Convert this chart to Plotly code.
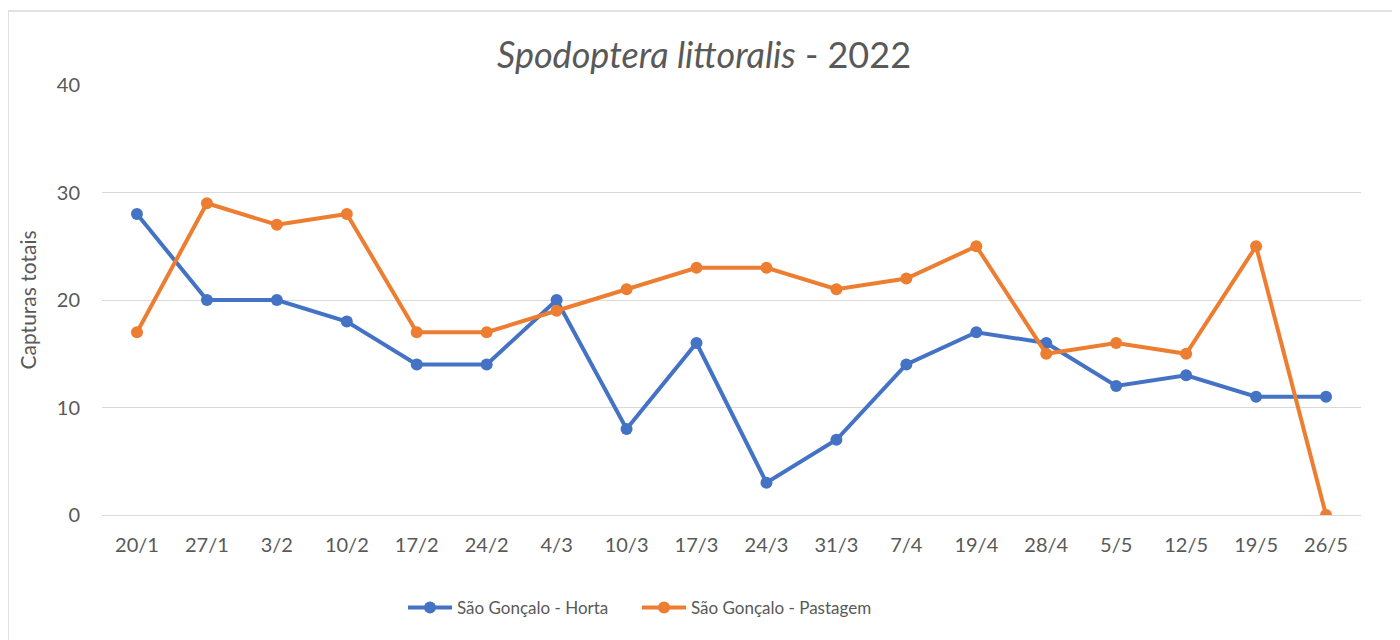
import plotly.graph_objects as go

dates = ["20/1", "27/1", "3/2", "10/2", "17/2", "24/2", "4/3", "10/3", "17/3",
         "24/3", "31/3", "7/4", "19/4", "28/4", "5/5", "12/5", "19/5", "26/5"]
horta = [28, 20, 20, 18, 14, 14, 20, 8, 16, 3, 7, 14, 17, 16, 12, 13, 11, 11]
pastagem = [17, 29, 27, 28, 17, 17, 19, 21, 23, 23, 21, 22, 25, 15, 16, 15, 25, 0]

FONT = "Lato"
GREY = "#595959"

W, H = 1392, 632   # page has 8px body margin
L, T = 94, 77
PW, PH = 1259, 430

fig = go.Figure()
fig.add_trace(go.Scatter(
    x=dates, y=horta, mode="lines+markers", name="São Gonçalo - Horta",
    line=dict(color="#4472C4", width=4), marker=dict(color="#4472C4", size=12),
))
fig.add_trace(go.Scatter(
    x=dates, y=pastagem, mode="lines+markers", name="São Gonçalo - Pastagem",
    line=dict(color="#ED7D31", width=4), marker=dict(color="#ED7D31", size=12),
))

fig.update_layout(
    width=W, height=H,
    margin=dict(l=L, r=W - L - PW, t=T, b=H - T - PH),
    paper_bgcolor="white", plot_bgcolor="white",
    font=dict(family=FONT, color=GREY, size=17),
    title=dict(
        text="<i>Spodoptera littoralis</i> - 2022",
        x=0.5, xanchor="center", xref="container",
        y=1 - 47 / H, yanchor="middle",
        font=dict(family=FONT, size=36, color=GREY),
    ),
    xaxis=dict(
        type="category", showgrid=False, showline=False, ticks="",
        tickfont=dict(size=20, color=GREY), range=[-0.5, len(dates) - 0.5],
        ticklabelstandoff=16,
    ),
    yaxis=dict(
        range=[0, 40], dtick=10, showgrid=True, gridcolor="#D9D9D9", gridwidth=1,
        zeroline=True, zerolinecolor="#D9D9D9", zerolinewidth=1,
        ticks="", ticklabelstandoff=21, tickfont=dict(size=20, color=GREY),
        title=dict(text="Capturas totais", font=dict(size=21, color=GREY), standoff=14),
    ),
    legend=dict(
        orientation="h", x=395 / W, xanchor="left", xref="container",
        y=1 - 600 / H, yanchor="middle", yref="container",
        font=dict(size=17, color=GREY), itemwidth=44, entrywidth=175,
    ),
    showlegend=True,
)

fig.add_shape(
    type="rect", xref="paper", yref="paper",
    x0=(0 - L) / PW, x1=(1420 - L) / PW,
    y0=(T + PH - 660) / PH, y1=(T + PH - 3) / PH,
    line=dict(color="#D9D9D9", width=1.5), layer="below",
)

fig.write_html("out.html")
